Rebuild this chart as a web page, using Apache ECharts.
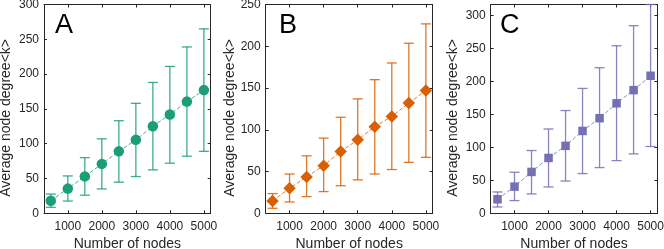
<!DOCTYPE html>
<html>
<head>
<meta charset="utf-8">
<script src="https://cdn.jsdelivr.net/npm/echarts@6/dist/echarts.min.js"></script>
<style>
html,body{margin:0;padding:0;background:#fff;}
#c{width:664px;height:249px;}
</style>
</head>
<body>
<div id="c"></div>
<script>
// ---- data ----
const nodes = [500, 1000, 1500, 2000, 2500, 3000, 3500, 4000, 4500, 5000];
const xTicks = [1000, 2000, 3000, 4000, 5000];

const meanA = [18, 35.5, 53, 71, 89, 105.5, 125, 142, 160.5, 177];
const lowA  = [8.6, 17.6, 26, 35, 44.7, 52.8, 62.4, 72, 82, 89];
const highA = [27.6, 53.7, 80, 107, 133, 158, 188, 211, 239, 265];

const meanB = [14.8, 30, 43.6, 57, 74, 88, 103.6, 116, 132, 147];
const lowB  = [6, 13.6, 20, 26, 33, 40, 47, 52.4, 61, 67];
const highB = [23.6, 47, 68.8, 90, 115, 137, 160, 180, 203.6, 226.8];

const meanC = [21.3, 40.5, 62.8, 84, 102.4, 125, 144.4, 167, 187, 208.8];
const lowC  = [9.6, 19.3, 29.4, 40, 49, 60.3, 69.4, 80, 90.2, 101.4];
const highC = [32.4, 62.3, 95.3, 128, 156, 189.6, 221, 254.4, 284.8, 317];

const yTicksA = [0, 50, 100, 150, 200, 250, 300];
const yTicksB = [0, 50, 100, 150, 200, 250];
const yTicksC = [0, 50, 100, 150, 200, 250, 300];

const panelLabels = ['A', 'B', 'C'];
const xName = 'Number of nodes';
const yName = 'Average node degree<k>';

// ---- layout / style ----
const FONT = '"Liberation Sans", Arial, Helvetica, sans-serif';
const AX = '#262626';
const panels = [
  {mean: meanA, low: lowA, high: highA, yTicks: yTicksA, ymax: 300, color: '#1b9e77', symbol: 'circle', size: 10.5,
   grid: {left: 44, top: 4.5, width: 166.7, height: 208.8}, nameGap: 31, letter: [55, 12]},
  {mean: meanB, low: lowB, high: highB, yTicks: yTicksB, ymax: 250, color: '#d95f02', symbol: 'diamond', size: 12.5,
   grid: {left: 265.7, top: 4.5, width: 167, height: 208.8}, nameGap: 29, letter: [279, 12]},
  {mean: meanC, low: lowC, high: highC, yTicks: yTicksC, ymax: 317, color: '#7570b3', symbol: 'rect', size: 8.5,
   grid: {left: 490.7, top: 4.5, width: 166.7, height: 208.8}, nameGap: 31, letter: [500, 12]}
];

const grids = [], xAxes = [], yAxes = [], series = [], graphics = [];
const plain = v => String(v);
panels.forEach((p, i) => {
  grids.push(Object.assign({containLabel: false, outerBoundsMode: 'none'}, p.grid));
  const common = {min: 300, max: 5200, gridIndex: i, type: 'value', splitLine: {show: false},
    axisLine: {show: true, onZero: false, lineStyle: {color: AX, width: 1}},
    axisTick: {show: true, inside: true, length: 3, customValues: xTicks, lineStyle: {color: AX}}};
  xAxes.push(Object.assign({}, common, {position: 'bottom',
    axisLabel: {show: true, customValues: xTicks, formatter: plain, color: AX, fontSize: 12, fontFamily: FONT, margin: 7},
    name: xName, nameLocation: 'middle', nameGap: 24,
    nameTextStyle: {color: AX, fontSize: 14, fontFamily: FONT}}));
  xAxes.push(Object.assign({}, common, {position: 'top', axisLabel: {show: false}}));
  const ycommon = {min: 0, max: p.ymax, gridIndex: i, type: 'value', splitLine: {show: false},
    axisLine: {show: true, onZero: false, lineStyle: {color: AX, width: 1}},
    axisTick: {show: true, inside: true, length: 3, customValues: p.yTicks, lineStyle: {color: AX}}};
  yAxes.push(Object.assign({}, ycommon, {position: 'left',
    axisLabel: {show: true, customValues: p.yTicks, formatter: plain, color: AX, fontSize: 12, fontFamily: FONT, margin: 5},
    name: yName, nameLocation: 'middle', nameGap: p.nameGap, nameRotate: 90,
    nameTextStyle: {color: AX, fontSize: 14, fontFamily: FONT, padding: [0, 18, 0, 0]}}));
  yAxes.push(Object.assign({}, ycommon, {position: 'right', axisLabel: {show: false}}));

  const errData = nodes.map((n, k) => [n, p.low[k], p.high[k]]);
  series.push({
    type: 'custom', xAxisIndex: 2 * i, yAxisIndex: 2 * i, z: 2, clip: false,
    data: errData,
    renderItem: (params, api) => {
      const x = api.value(0);
      const a = api.coord([x, api.value(1)]);
      const b = api.coord([x, api.value(2)]);
      const w = 5;
      const st = {stroke: p.color, lineWidth: 1.3, opacity: 0.85};
      return {type: 'group', children: [
        {type: 'line', shape: {x1: a[0], y1: a[1], x2: b[0], y2: b[1]}, style: st},
        {type: 'line', shape: {x1: a[0] - w, y1: a[1], x2: a[0] + w, y2: a[1]}, style: st},
        {type: 'line', shape: {x1: b[0] - w, y1: b[1], x2: b[0] + w, y2: b[1]}, style: st}
      ]};
    }
  });
  series.push({
    type: 'line', xAxisIndex: 2 * i, yAxisIndex: 2 * i, z: 3,
    data: nodes.map((n, k) => [n, p.mean[k]]),
    symbol: p.symbol, symbolSize: p.size, showSymbol: true,
    lineStyle: {color: p.color, width: 1, type: [4, 2], opacity: 0.8},
    itemStyle: {color: p.color, opacity: 1},
    emphasis: {disabled: true}, animation: false
  });
  graphics.push({type: 'text', left: p.letter[0], top: p.letter[1],
    style: {text: panelLabels[i], fontSize: 27, fontFamily: FONT, fill: '#000'}});
});

const chart = echarts.init(document.getElementById('c'), null, {renderer: 'canvas'});
chart.setOption({
  animation: false,
  grid: grids, xAxis: xAxes, yAxis: yAxes, series: series, graphic: graphics
});
</script>
</body>
</html>
